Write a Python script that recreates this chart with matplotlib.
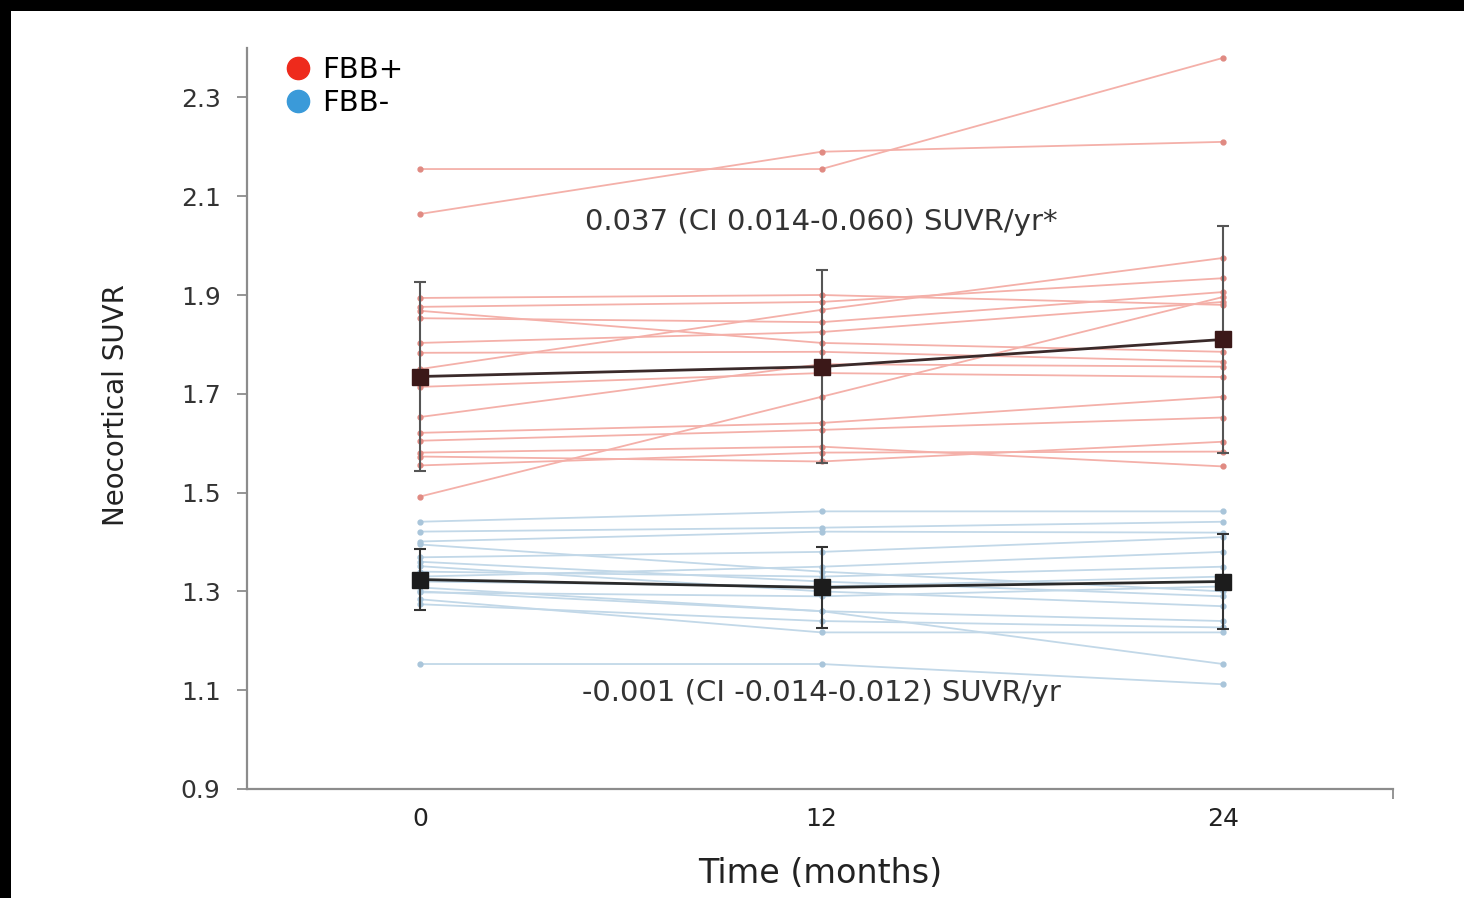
import matplotlib
matplotlib.use("Agg")
import matplotlib.pyplot as plt
from matplotlib.lines import Line2D
from matplotlib.patches import Rectangle

# ---------------- data ----------------
months = [0, 12, 24]
x_tick_labels = ["0", "12", "24"]
y_ticks = [0.9, 1.1, 1.3, 1.5, 1.7, 1.9, 2.1, 2.3]

# individual FBB+ subjects (SUVR at 0, 12, 24 months)
fbb_pos_subjects = [
    [2.155, 2.155, 2.380],
    [2.064, 2.190, 2.210],
    [1.894, 1.900, 1.880],
    [1.876, 1.886, 1.934],
    [1.868, 1.803, 1.785],
    [1.853, 1.845, 1.906],
    [1.803, 1.825, 1.886],
    [1.783, 1.785, 1.765],
    [1.750, 1.870, 1.975],
    [1.714, 1.742, 1.734],
    [1.653, 1.760, 1.755],
    [1.621, 1.641, 1.694],
    [1.605, 1.627, 1.652],
    [1.581, 1.593, 1.553],
    [1.573, 1.563, 1.603],
    [1.555, 1.581, 1.583],
    [1.492, 1.694, 1.896],
]

# individual FBB- subjects
fbb_neg_subjects = [
    [1.153, 1.153, 1.112],
    [1.441, 1.462, 1.462],
    [1.421, 1.429, 1.441],
    [1.401, 1.421, 1.419],
    [1.395, 1.340, 1.300],
    [1.369, 1.380, 1.410],
    [1.351, 1.300, 1.270],
    [1.340, 1.330, 1.350],
    [1.308, 1.260, 1.240],
    [1.298, 1.290, 1.310],
    [1.284, 1.217, 1.217],
    [1.274, 1.240, 1.227],
    [1.330, 1.350, 1.380],
    [1.300, 1.260, 1.153],
    [1.320, 1.310, 1.330],
    [1.360, 1.320, 1.290],
]

# group means and SD
fbb_pos_mean = [1.735, 1.755, 1.810]
fbb_pos_sd = [0.192, 0.196, 0.230]
fbb_neg_mean = [1.324, 1.308, 1.320]
fbb_neg_sd = [0.061, 0.082, 0.096]

legend_labels = ["FBB+", "FBB-"]
annot_pos = "0.037 (CI 0.014-0.060) SUVR/yr*"
annot_neg = "-0.001 (CI -0.014-0.012) SUVR/yr"
x_label = "Time (months)"
y_label = "Neocortical SUVR"

# ---------------- figure ----------------
W, H = 1464, 898
fig = plt.figure(figsize=(W / 100, H / 100), dpi=100, facecolor="white")
# black frame at the left and top edges
fig.patches.append(Rectangle((0, 0), 11 / W, 1, transform=fig.transFigure,
                             facecolor="black", edgecolor="none", zorder=-10))
fig.patches.append(Rectangle((0, 1 - 11 / H), 1, 11 / H, transform=fig.transFigure,
                             facecolor="black", edgecolor="none", zorder=-10))

ax = fig.add_axes([247 / W, 1 - 789 / H, (1393 - 247) / W, (789 - 48) / H])
ax.set_facecolor("white")

red_line = "#f4b0a9"
red_dot = "#e08a82"
blue_line = "#c2d8e8"
blue_dot = "#a9c5da"

for s in fbb_pos_subjects:
    ax.plot(months, s, color=red_line, lw=1.3, marker="o", ms=3.5,
            mfc=red_dot, mec=red_dot, zorder=2)
for s in fbb_neg_subjects:
    ax.plot(months, s, color=blue_line, lw=1.3, marker="o", ms=3.5,
            mfc=blue_dot, mec=blue_dot, zorder=2)

ax.errorbar(months, fbb_pos_mean, yerr=fbb_pos_sd, color="#3a2a2a", lw=2.0,
            marker="s", ms=11, mfc="#3b1818", mec="#3b1818",
            ecolor="#555555", elinewidth=1.5, capsize=4, capthick=1.5, zorder=4)
ax.errorbar(months, fbb_neg_mean, yerr=fbb_neg_sd, color="#2a2a2a", lw=2.0,
            marker="s", ms=11, mfc="#1c1c1c", mec="#1c1c1c",
            ecolor="#333333", elinewidth=1.5, capsize=4, capthick=1.5, zorder=4)

ax.set_xlim(-5.17, 29.08)
ax.set_ylim(0.9, 2.4)
ax.set_yticks(y_ticks)
ax.set_yticklabels([f"{v:.1f}" for v in y_ticks])
ax.set_xticks(months)
ax.set_xticklabels(x_tick_labels)
ax.set_xticks([29.08], minor=True)

for sp in ["top", "right"]:
    ax.spines[sp].set_visible(False)
for sp in ["left", "bottom"]:
    ax.spines[sp].set_color("#8c8c8c")
    ax.spines[sp].set_linewidth(1.6)

ax.tick_params(axis="y", direction="out", length=7, width=1.3, color="#8c8c8c",
               pad=12, labelsize=18, labelcolor="#333333")
ax.tick_params(axis="x", which="major", length=0, pad=13, labelsize=18,
               labelcolor="#222222")
ax.tick_params(axis="x", which="minor", direction="out", length=7, width=1.3,
               color="#8c8c8c")

ax.set_xlabel(x_label, fontsize=24, color="#222222")
ax.xaxis.set_label_coords(0.5, -0.092)
ax.set_ylabel(y_label, fontsize=20, color="#222222")
ax.yaxis.set_label_coords(-0.102, 0.518)

ax.text(12, 2.047, annot_pos, ha="center", va="center", fontsize=21, color="#333333")
ax.text(12, 1.095, annot_neg, ha="center", va="center", fontsize=21, color="#333333")

handles = [Line2D([], [], ls="none", marker="o", ms=16, color="#ee2a1c"),
           Line2D([], [], ls="none", marker="o", ms=16, color="#3a9ad9")]
ax.legend(handles, legend_labels, loc="upper left", bbox_to_anchor=(0.027, 0.997),
          frameon=False, fontsize=21, handlelength=1.0, handletextpad=0.3,
          labelspacing=0.17, borderpad=0.2, borderaxespad=0)

fig.savefig("out.png", dpi=100, facecolor=fig.get_facecolor())
